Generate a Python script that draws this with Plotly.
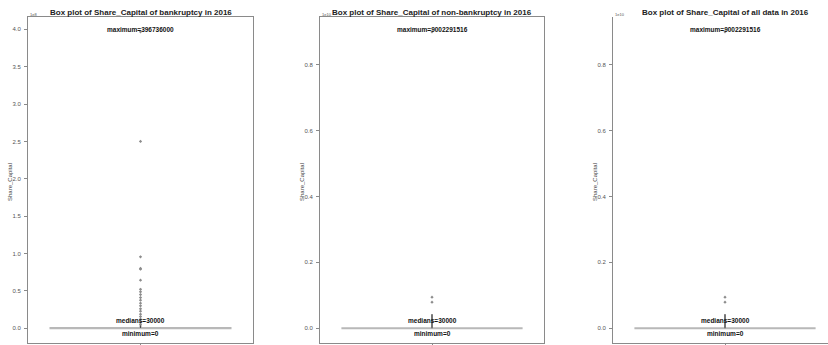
import plotly.graph_objects as go

W, H = 828, 345

titles = [
    "Box plot of Share_Capital of bankruptcy in 2016",
    "Box plot of Share_Capital of non-bankruptcy in 2016",
    "Box plot of Share_Capital of all data in 2016",
]
maximums = [396736000, 9002291516, 9002291516]
medians = [30000, 30000, 30000]
minimums = [0, 0, 0]
q1s = [0, 0, 0]
q3s = [300000, 300000, 300000]
upper_whiskers = [5000000, 420000000, 420000000]
exponents = [8, 10, 10]
tick_steps = [0.5, 0.2, 0.2]
tick_counts = [9, 5, 5]

outliers_bankrupt = [5.4e6, 8.5e6, 1.2e7, 1.56e7, 1.88e7, 2.28e7, 2.6e7, 3.0e7, 3.35e7,
                     3.75e7, 4.1e7, 4.5e7, 4.87e7, 5.2e7, 6.43e7, 7.9e7, 8.0e7, 9.56e7,
                     2.5e8, 396736000]
outliers_nonbankrupt = [7.9e8, 9.4e8, 9002291516]
outliers_all = [7.9e8, 9.4e8, 9002291516]
outliers = [outliers_bankrupt, outliers_nonbankrupt, outliers_all]

# pixel layout of the axes boxes
x_px = [(28, 253), (320, 544), (613, 828)]
x_ranges = [[-0.5, 0.5], [-0.5, 0.5], [-0.5, 0.5 - (837 - 828) / 224]]
top_px, bot_px = 17, 343

FONT = "Liberation Sans, Arial, sans-serif"
GRID = "#8a8a8a"

fig = go.Figure()
annotations = []

for i in range(3):
    ax = "" if i == 0 else str(i + 1)
    xa, ya = "x" + ax, "y" + ax
    fig.add_trace(go.Box(
        x=[0], q1=[q1s[i]], median=[medians[i]], q3=[q3s[i]],
        lowerfence=[minimums[i]], upperfence=[upper_whiskers[i]],
        width=0.8, whiskerwidth=0, boxpoints=False,
        line=dict(color="#b8b8b8", width=2), fillcolor="rgba(0,0,0,0)",
        xaxis=xa, yaxis=ya, showlegend=False, hoverinfo="skip",
    ))
    fig.add_trace(go.Scatter(
        x=[0, 0], y=[q3s[i], upper_whiskers[i]], mode="lines",
        line=dict(color="#4a4a4a", width=1.2),
        xaxis=xa, yaxis=ya, showlegend=False, hoverinfo="skip",
    ))
    fig.add_trace(go.Scatter(
        x=[0] * len(outliers[i]), y=outliers[i], mode="markers",
        marker=dict(symbol="diamond", size=2.5, color="#8c8c8c"),
        xaxis=xa, yaxis=ya, showlegend=False, hoverinfo="skip",
    ))

    mx = maximums[i]
    span = mx - minimums[i]
    yr = [minimums[i] - 0.05 * span, mx + 0.05 * span]
    scale = 10 ** exponents[i]
    tickvals = [k * tick_steps[i] * scale for k in range(tick_counts[i])]
    ticktext = ["%.1f" % (k * tick_steps[i]) for k in range(tick_counts[i])]

    x0, x1 = x_px[i]
    fig.update_layout(**{
        "xaxis" + ax: dict(
            domain=[x0 / W, x1 / W], range=x_ranges[i], anchor=ya,
            showgrid=False, zeroline=False, showline=True, linecolor=GRID,
            linewidth=1, mirror=(i < 2), ticks="outside", ticklen=3,
            tickcolor=GRID, tickvals=[0], showticklabels=False,
        ),
        "yaxis" + ax: dict(
            domain=[(H - bot_px) / H, (H - top_px) / H], range=yr, anchor=xa,
            showgrid=False, zeroline=False, showline=True, linecolor=GRID,
            linewidth=1, mirror=(i < 2), ticks="outside", ticklen=3,
            tickcolor=GRID, tickvals=tickvals, ticktext=ticktext,
            ticklabelstandoff=2,
            tickfont=dict(family=FONT, size=6, color="#555555"),
        ),
    })

    xc = 0
    annotations += [
        dict(x=xc, y=mx, xref=xa, yref=ya, text="<b>maximum=%d</b>" % mx,
             showarrow=False, yanchor="bottom", xanchor="center", yshift=-3,
             font=dict(family=FONT, size=6.5, color="#111111")),
        dict(x=xc, y=medians[i], xref=xa, yref=ya, text="<b>medians=%d</b>" % medians[i],
             showarrow=False, yanchor="bottom", xanchor="center", yshift=2,
             font=dict(family=FONT, size=6.5, color="#111111")),
        dict(x=xc, y=minimums[i], xref=xa, yref=ya, text="<b>minimum=%d</b>" % minimums[i],
             showarrow=False, yanchor="top", xanchor="center",
             font=dict(family=FONT, size=6.5, color="#111111")),
        dict(x=(x0 + x1) / 2 / W if i < 2 else (613 + 837) / 2 / W, y=(H - 12.5) / H,
             xref="paper", yref="paper", text="<b>%s</b>" % titles[i],
             showarrow=False, yanchor="middle", xanchor="center",
             font=dict(family=FONT, size=8, color="#222222")),
        dict(x=x0 / W, y=(H - 14) / H, xref="paper", yref="paper",
             text="1e%d" % exponents[i], showarrow=False, xanchor="left",
             yanchor="middle", font=dict(family=FONT, size=4, color="#555555")),
        dict(x=(x0 - 18) / W, y=(H - 182) / H, xref="paper", yref="paper",
             text="Share_Capital", textangle=-90, showarrow=False,
             xanchor="center", yanchor="middle",
             font=dict(family=FONT, size=6, color="#444444")),
    ]

fig.update_layout(
    width=W, height=H, margin=dict(l=0, r=0, t=0, b=0),
    paper_bgcolor="white", plot_bgcolor="white",
    annotations=annotations, showlegend=False,
)
fig.write_html("out.html")
